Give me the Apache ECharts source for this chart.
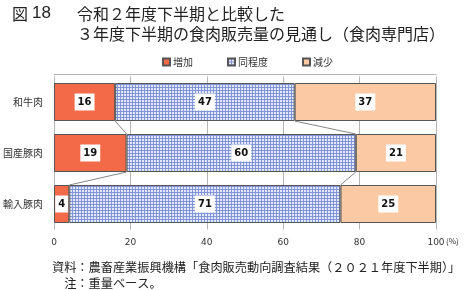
<!DOCTYPE html>
<html><head><meta charset="utf-8">
<script src="https://cdn.jsdelivr.net/npm/echarts@6/dist/echarts.min.js"></script>
<style>html,body{margin:0;padding:0;background:#fff}#c{width:467px;height:290px}</style>
</head><body><div id="c"></div>
<script>
const categories = ['和牛肉', '国産豚肉', '輸入豚肉'];
const seriesNames = ['増加', '同程度', '減少'];
const increase = [16, 19, 4];
const same = [47, 60, 71];
const decrease = [37, 21, 25];
const xTicks = [0, 20, 40, 60, 80, 100];

const FONT = '"Noto Sans CJK JP", "Noto Sans", sans-serif';

// checkered blue pattern
const pc = document.createElement('canvas');
pc.width = 3; pc.height = 3;
const g = pc.getContext('2d');
g.fillStyle = '#e4e9f8'; g.fillRect(0, 0, 3, 3);
g.fillStyle = '#8194d8'; g.fillRect(0, 0, 3, 1); g.fillRect(0, 0, 1, 3);

const BAR = 0.745;
const lbl = {
  show: true, position: 'inside', color: '#111', fontWeight: 'bold', fontSize: 10,
  fontFamily: 'Verdana, "DejaVu Sans", sans-serif',
  backgroundColor: '#fff', padding: [4, 3, 3, 3]
};
const border = { borderColor: '#555', borderWidth: 1 };

// connector lines between bars (cumulative boundaries)
const conn = [];
for (let i = 0; i < categories.length - 1; i++) {
  conn.push([increase[i], increase[i + 1], i, i + 1]);
  conn.push([increase[i] + same[i], increase[i + 1] + same[i + 1], i, i + 1]);
}

const chart = echarts.init(document.getElementById('c'));
chart.setOption({
  animation: false,
  textStyle: { fontFamily: FONT },
  title: [
    { text: '{a|図}{b|18}', left: 12, top: 5, padding: 0,
      textStyle: { fontWeight: 'normal', rich: {
        a: { fontSize: 16, fontWeight: 'normal', color: '#222', fontFamily: FONT },
        b: { fontSize: 17, fontWeight: 'normal', color: '#222', fontFamily: '"Liberation Sans", Arial, sans-serif', padding: [0, 0, 0, 4] } } } },
    { text: '令和２年度下半期と比較した\n３年度下半期の食肉販売量の見通し（食肉専門店）', left: 77, top: 4, padding: 0,
      textStyle: { fontSize: 16, fontWeight: 'normal', color: '#222', lineHeight: 20, fontFamily: FONT } },
    { text: '資料：農畜産業振興機構「食肉販売動向調査結果（２０２１年度下半期）」\n\u3000注：重量ベース。', left: 52, top: 259, padding: 0,
      textStyle: { fontSize: 12.2, fontWeight: 'normal', color: '#222', lineHeight: 16.5, fontFamily: FONT } }
  ],
  legend: {
    top: 57, left: 162, padding: 0, itemWidth: 7, itemHeight: 7, itemGap: 34, icon: 'rect',
    textStyle: { fontSize: 10, color: '#333', fontFamily: FONT, padding: [0, 0, 0, -2] },
    data: seriesNames
  },
  grid: { left: 52.5, right: 31, top: 76.5, height: 153 },
  xAxis: [{
    type: 'value', min: 0, max: 100, interval: 20,
    axisLine: { show: false }, axisTick: { show: false },
    splitLine: { show: true, lineStyle: { color: '#b5b5b5', width: 1 } },
    axisLabel: { fontSize: 9, color: '#333', margin: 9, fontFamily: 'Verdana, "DejaVu Sans", sans-serif',
      formatter: v => xTicks.includes(v) ? String(v) : '' }
  }, {
    type: 'value', position: 'top', min: 0, max: 100, offset: 2,
    axisLine: { show: true, lineStyle: { color: '#b5b5b5' } }, axisTick: { show: false },
    axisLabel: { show: false }, splitLine: { show: false }
  }],
  yAxis: {
    type: 'category', data: categories, inverse: true,
    axisLine: { show: false }, axisTick: { show: false },
    axisLabel: { fontSize: 10, color: '#333', margin: 11, fontFamily: FONT }
  },
  graphic: [{ type: 'text', left: 446, top: 237, style: { text: '(%)', fontSize: 8, fill: '#333', fontFamily: FONT } }],
  series: [
    { name: seriesNames[0], type: 'bar', stack: 's', data: increase, barWidth: (BAR * 100) + '%',
      itemStyle: Object.assign({ color: '#f26a48' }, border), label: lbl },
    { name: seriesNames[1], type: 'bar', stack: 's', data: same,
      itemStyle: Object.assign({ color: { image: pc, repeat: 'repeat' } }, border), label: lbl },
    { name: seriesNames[2], type: 'bar', stack: 's', data: decrease,
      itemStyle: Object.assign({ color: '#fbcaa5' }, border), label: lbl },
    { type: 'custom', silent: true, data: conn, z: 1,
      renderItem: (params, api) => {
        const h = api.size([0, 1])[1] * BAR / 2;
        const p1 = api.coord([api.value(0), api.value(2)]);
        const p2 = api.coord([api.value(1), api.value(3)]);
        return { type: 'line', shape: { x1: p1[0], y1: p1[1] + h, x2: p2[0], y2: p2[1] - h },
          style: { stroke: '#666', lineWidth: 0.8 } };
      } }
  ]
});
</script></body></html>
